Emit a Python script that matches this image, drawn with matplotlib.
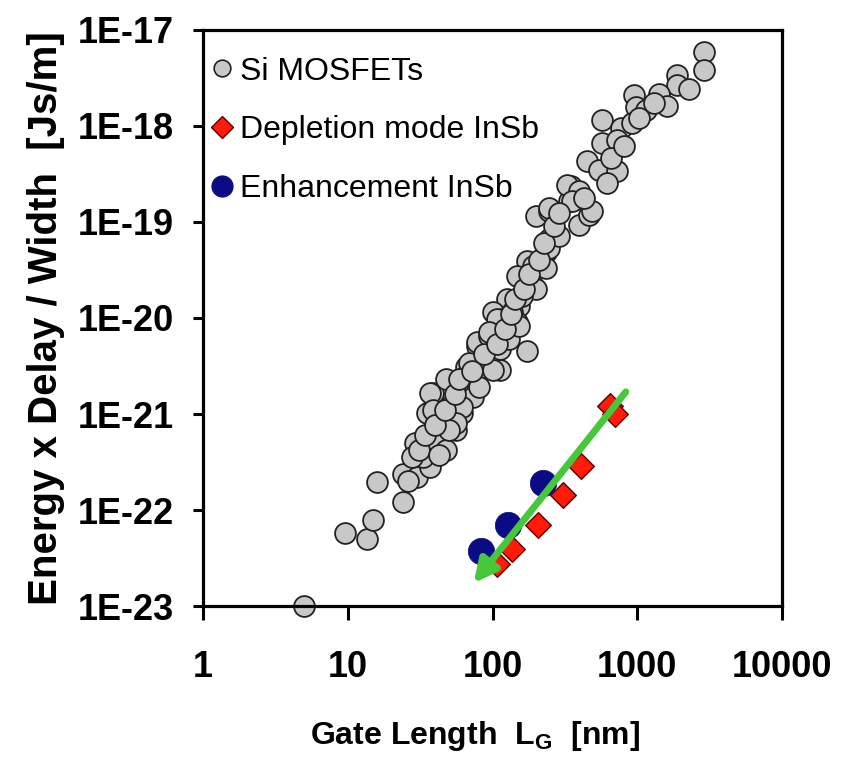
import matplotlib
matplotlib.use("Agg")
import matplotlib.pyplot as plt
from matplotlib.ticker import FixedLocator, NullLocator, FixedFormatter
from matplotlib.lines import Line2D

plt.rcParams['font.family'] = ['Liberation Sans', 'DejaVu Sans']

# Si MOSFETs: gate length [nm], energy x delay / width [Js/m]
si_lg = [5, 9.5, 13.5, 15, 16, 24, 24, 30, 29, 37, 35, 39, 48, 43, 50, 62, 66, 78,
         100, 112, 56, 41, 33, 28, 48, 62, 73, 85,
         37, 66, 69, 62, 56, 50, 81, 100, 112, 39,
         201, 247, 340, 351, 398, 467, 247, 236, 172, 147, 189, 125, 153, 100, 117,
         147, 78, 95, 174, 125,
         247, 290, 189, 201, 161, 107, 137, 95, 131, 153, 236,
         2900, 2900, 1890, 1890, 1420, 1610, 950, 985, 1150, 574, 776, 925, 574,
         728, 452, 547, 728, 621, 329, 398, 247, 490, 356,
         31, 34, 40, 47, 55, 59, 72, 88, 107, 121, 135, 142, 166, 180, 211, 228,
         268, 290, 431, 662, 813, 1032, 1310, 2285, 43, 26]
si_edp = [1.0e-23, 5.7e-23, 5.0e-23, 7.8e-23, 1.95e-22, 1.2e-22, 2.4e-22, 2.2e-22,
          5.0e-22, 2.8e-22, 1.03e-21, 1.67e-21, 2.3e-21, 8.1e-22, 1.19e-21, 1.8e-21,
          3.1e-21, 5.1e-21, 6.0e-21, 2.9e-21, 6.8e-22, 5.4e-22, 3.6e-22, 3.6e-22,
          4.2e-22, 1.03e-21, 1.51e-21, 3.1e-21,
          1.67e-21, 2.46e-21, 3.4e-21, 1.19e-21, 8.1e-22, 6.8e-22, 1.93e-21, 2.9e-21,
          4.7e-21, 1.1e-21,
          1.15e-19, 1.29e-19, 1.64e-19, 2.36e-19, 9.2e-20, 1.17e-19, 6.7e-20, 4.9e-20,
          3.9e-20, 2.75e-20, 2.16e-20, 1.58e-20, 1.33e-20, 1.15e-20, 9.7e-21,
          9.1e-21, 5.6e-21, 6.5e-21, 4.5e-21, 6.5e-21,
          5.3e-20, 7.2e-20, 3.5e-20, 2.0e-20, 1.7e-20, 9.7e-21, 1.15e-20, 7.1e-21,
          6.0e-21, 8.2e-21, 3.3e-20,
          5.9e-18, 3.8e-18, 3.4e-18, 2.65e-18, 2.13e-18, 1.63e-18, 2.08e-18, 1.56e-18,
          1.48e-18, 1.16e-18, 9.6e-19, 1.08e-18, 6.7e-19, 7.2e-19, 4.3e-19, 3.5e-19,
          3.4e-19, 2.54e-19, 2.42e-19, 2.1e-19, 1.39e-19, 1.29e-19, 1.64e-19,
          4.2e-22, 6.05e-22, 7.7e-22, 1.1e-21, 1.6e-21, 2.3e-21, 2.8e-21, 4.2e-21,
          5.3e-21, 7.7e-21, 1.1e-20, 1.58e-20, 2.0e-20, 2.9e-20, 4.0e-20, 6.0e-20,
          9.0e-20, 1.23e-19, 1.77e-19, 4.65e-19, 6.2e-19, 1.22e-18, 1.75e-18, 2.4e-18,
          3.7e-22, 2.0e-22]

# Depletion mode InSb
dep_lg = [650, 700, 406, 305, 205, 137, 108]
dep_edp = [1.2e-21, 1.0e-21, 2.9e-22, 1.42e-22, 6.9e-23, 3.9e-23, 2.75e-23]

# Enhancement InSb
enh_lg = [225, 127, 83]
enh_edp = [1.9e-22, 6.9e-23, 3.76e-23]

# trend arrow (tail -> head)
arrow_tail = (833, 1.7e-21)
arrow_head = (74, 1.73e-23)

xticks = [1, 10, 100, 1000, 10000]
xtick_labels = ['1', '10', '100', '1000', '10000']
yticks = [1e-23, 1e-22, 1e-21, 1e-20, 1e-19, 1e-18, 1e-17]
ytick_labels = ['1E-23', '1E-22', '1E-21', '1E-20', '1E-19', '1E-18', '1E-17']

fig = plt.figure(figsize=(8.48, 7.67), dpi=100)
ax = fig.add_axes([0.2394, 0.2099, 0.6828, 0.7510])

ax.scatter(si_lg, si_edp, s=225, marker='o', facecolor='#c8c8c8',
           edgecolor='#222222', linewidth=1.3, zorder=2, clip_on=False)
ax.scatter(enh_lg, enh_edp, s=360, marker='o', facecolor='#0b0b85',
           edgecolor='#0b0b85', linewidth=0.5, zorder=3)
ax.scatter(dep_lg, dep_edp, s=170, marker='D', facecolor='#ff1a0a',
           edgecolor='#5a0000', linewidth=1.0, zorder=4)
ax.annotate('', xy=arrow_head, xytext=arrow_tail,
            arrowprops=dict(arrowstyle='-|>', color='#46c83a', lw=5,
                            mutation_scale=34, shrinkA=0, shrinkB=0), zorder=5)

ax.set_xscale('log')
ax.set_yscale('log')
ax.set_xlim(1, 10000)
ax.set_ylim(1e-23, 1e-17)
ax.xaxis.set_major_locator(FixedLocator(xticks))
ax.xaxis.set_major_formatter(FixedFormatter(xtick_labels))
ax.yaxis.set_major_locator(FixedLocator(yticks))
ax.yaxis.set_major_formatter(FixedFormatter(ytick_labels))
ax.xaxis.set_minor_locator(NullLocator())
ax.yaxis.set_minor_locator(NullLocator())

for sp in ax.spines.values():
    sp.set_linewidth(2.3)
ax.tick_params(axis='x', direction='out', length=10, width=2.2, pad=22)
ax.tick_params(axis='y', direction='out', length=7, width=2.2, pad=14)
for lab in ax.get_xticklabels() + ax.get_yticklabels():
    lab.set_fontsize(26)
    lab.set_fontweight('bold')

ax.set_xlabel('Gate Length  L$_\\mathregular{G}$  [nm]', fontsize=23,
              fontweight='bold', labelpad=24)
ax.xaxis.label.set_x(0.47)
ax.set_ylabel('Energy x Delay / Width  [Js/m]', fontsize=29, fontweight='bold',
              labelpad=9)

handles = [
    Line2D([], [], ls='none', marker='o', ms=12, mfc='#c8c8c8', mec='#222222', mew=1.2),
    Line2D([], [], ls='none', marker='D', ms=11, mfc='#ff1a0a', mec='#5a0000', mew=1.0),
    Line2D([], [], ls='none', marker='o', ms=15, mfc='#0b0b85', mec='#0b0b85'),
]
ax.legend(handles, ['Si MOSFETs', 'Depletion mode InSb', 'Enhancement InSb'],
          loc='upper left', bbox_to_anchor=(0.0, 0.965), frameon=False,
          fontsize=23, handlelength=0.8, handletextpad=0.15, labelspacing=0.9,
          borderpad=0.2, borderaxespad=0.0)

fig.savefig('out.png', dpi=100)
